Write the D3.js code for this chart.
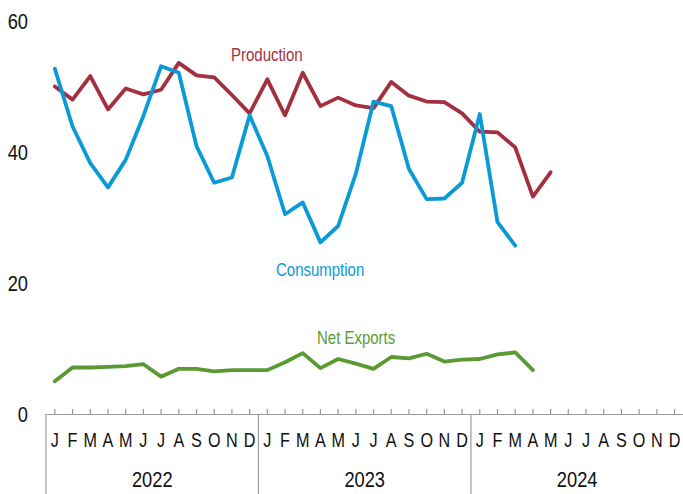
<!DOCTYPE html>
<html>
<head>
<meta charset="utf-8">
<script src="https://cdn.jsdelivr.net/npm/d3@7"></script>
<style>
  body { margin: 0; background: #fff; }
  text { font-family: "Liberation Sans", Arial, sans-serif; }
</style>
</head>
<body>
<div id="chart"></div>
<script>
// data, monthly Jan 2022 .. Dec 2024
const years = ['2022', '2023', '2024'];
const monthLetters = ['J', 'F', 'M', 'A', 'M', 'J', 'J', 'A', 'S', 'O', 'N', 'D'];
const yTicks = [0, 20, 40, 60];

const production = [
  50.0, 48.0, 51.6, 46.5, 49.7, 48.8, 49.5, 53.6, 51.7, 51.4, 48.7, 45.9,
  51.1, 45.6, 52.1, 47.0, 48.3, 47.1, 46.7, 50.7, 48.6, 47.7, 47.6, 45.9,
  43.1, 43.0, 40.7, 33.2, 36.9
];
const consumption = [
  52.7, 43.9, 38.3, 34.6, 38.8, 45.5, 53.1, 52.1, 40.9, 35.3, 36.1, 45.6,
  39.4, 30.5, 32.3, 26.2, 28.7, 36.7, 47.7, 47.0, 37.4, 32.8, 32.9, 35.3,
  45.8, 29.3, 25.7
];
const netExports = [
  5.0, 7.1, 7.1, 7.2, 7.3, 7.6, 5.7, 6.9, 6.9, 6.5, 6.7, 6.7,
  6.7, 7.9, 9.3, 7.0, 8.4, 7.7, 6.9, 8.7, 8.5, 9.2, 8.0, 8.3,
  8.4, 9.1, 9.4, 6.7
];

const width = 683;
const height = 494;
const axisY = 414;
const sx = 0.83; // text in the reference is horizontally squeezed

const svg = d3.select('#chart')
  .append('svg')
  .attr('width', width)
  .attr('height', height)
  .attr('viewBox', `0 0 ${width} ${height}`);

// one band per month
const keys = [];
years.forEach(y => monthLetters.forEach((m, i) => keys.push(y + '-' + i)));

const x = d3.scaleBand()
  .domain(keys)
  .range([46, 683.4])
  .padding(0);

const y = d3.scaleLinear()
  .domain([0, 60])
  .range([axisY, 21]);

const cx = i => x(keys[i]) + x.bandwidth() / 2;

// y labels, no axis line
svg.append('g')
  .selectAll('text')
  .data(yTicks)
  .enter()
  .append('text')
  .attr('transform', d => `translate(28,${y(d) + 8}) scale(${sx},1)`)
  .attr('text-anchor', 'end')
  .style('font-size', '22px')
  .style('fill', '#111')
  .text(d => d);

// x axis with ticks pointing up
const xAxis = svg.append('g')
  .attr('transform', `translate(0,${axisY})`)
  .call(d3.axisBottom(x)
    .tickSizeInner(-5)
    .tickSizeOuter(0)
    .tickFormat(k => monthLetters[+k.split('-')[1]]));

xAxis.select('.domain').attr('stroke', '#9a9a9a').attr('stroke-width', 1.2);
xAxis.selectAll('.tick line').attr('stroke', '#9a9a9a').attr('stroke-width', 1.2);
xAxis.selectAll('.tick text')
  .attr('y', null)
  .attr('dy', null)
  .attr('transform', `translate(0,33) scale(${sx},1)`)
  .style('font-size', '19.5px')
  .style('font-family', '"Liberation Sans", Arial, sans-serif')
  .style('fill', '#111');

// year separators and labels
svg.append('g')
  .selectAll('line')
  .data(years)
  .enter()
  .append('line')
  .attr('x1', d => x(d + '-0'))
  .attr('x2', d => x(d + '-0'))
  .attr('y1', axisY)
  .attr('y2', height)
  .attr('stroke', '#9a9a9a')
  .attr('stroke-width', 1.2);

svg.append('g')
  .selectAll('text')
  .data(years)
  .enter()
  .append('text')
  .attr('transform', d => {
    const mid = (x(d + '-0') + x(d + '-11') + x.bandwidth()) / 2;
    return `translate(${mid},487) scale(${sx},1)`;
  })
  .attr('text-anchor', 'middle')
  .style('font-size', '22px')
  .style('fill', '#111')
  .text(d => d);

// series lines
const line = d3.line()
  .x((d, i) => cx(i))
  .y(d => y(d))
  .curve(d3.curveLinear);

const series = [
  { name: 'Production', values: production, color: '#a3303f', lx: 231, ly: 60.5 },
  { name: 'Consumption', values: consumption, color: '#0a9ad6', lx: 276, ly: 275.5 },
  { name: 'Net Exports', values: netExports, color: '#5a9a32', lx: 317, ly: 344 }
];

// draw in order so blue sits on red as in the reference
[series[0], series[2], series[1]].forEach(s => {
  svg.append('path')
    .datum(s.values)
    .attr('fill', 'none')
    .attr('stroke', s.color)
    .attr('stroke-width', 3.8)
    .attr('stroke-linejoin', 'round')
    .attr('stroke-linecap', 'round')
    .attr('d', line);
});

svg.append('g')
  .selectAll('text')
  .data(series)
  .enter()
  .append('text')
  .attr('transform', d => `translate(${d.lx},${d.ly}) scale(0.81,1)`)
  .style('font-size', '18.5px')
  .style('fill', d => d.color)
  .text(d => d.name);
</script>
</body>
</html>
